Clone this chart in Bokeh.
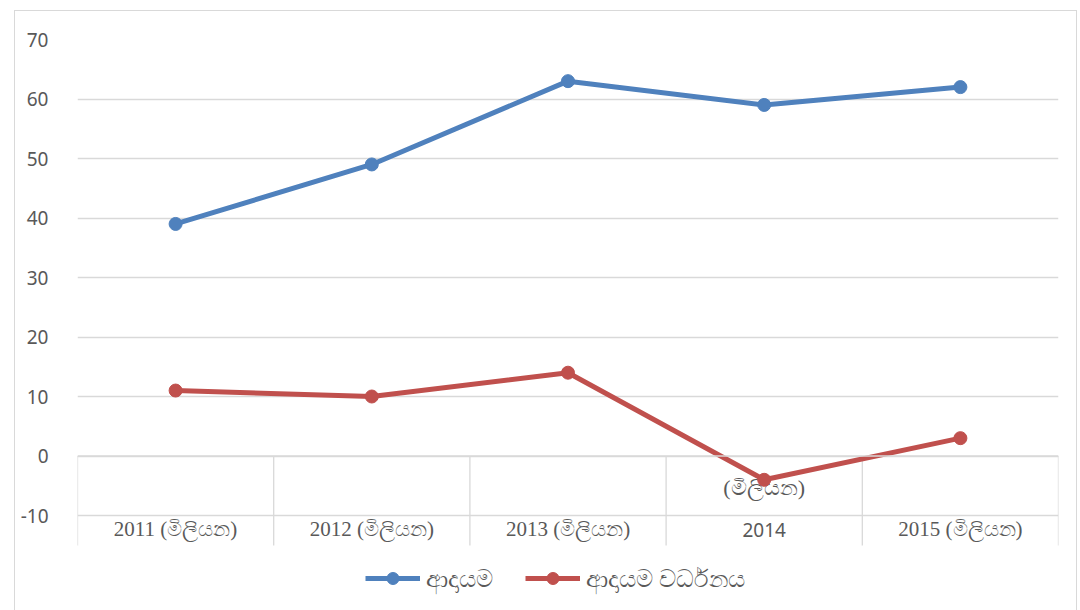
from bokeh.plotting import figure
from bokeh.models import (Range1d, FixedTicker, Legend, LegendItem, ColumnDataSource, Span)
from bokeh.core.properties import value
from bokeh.embed import file_html
from bokeh.resources import INLINE

# ---- data ----
categories = ["2011 (මිලියන)", "2012 (මිලියන)", "2013 (මිලියන)", "2014 (මිලියන)", "2015 (මිලියන)"]
income = [39, 49, 63, 59, 62]
growth = [11, 10, 14, -4, 3]
series_names = ["ආදායම", "ආදායම වර්ධනය"]
y_ticks = [-10, 0, 10, 20, 30, 40, 50, 60, 70]

BLUE = "#4F81BD"
RED = "#C0504D"
GRID = "#D9D9D9"
TXT = "#595959"

n = len(categories)
xs = [i + 0.5 for i in range(n)]

PX_PER_UNIT = 5.95
FRAME_H = 572
y_low = 70 - FRAME_H / PX_PER_UNIT
axis_low = -15.04  # lower end of category dividers

p = figure(output_backend="svg", toolbar_location=None,
           frame_width=981, frame_height=FRAME_H,
           min_border_left=62, min_border_top=28, min_border_right=18, min_border_bottom=0,
           x_range=Range1d(0, n), y_range=Range1d(y_low, 70))
p.margin = (10, 0, 0, 14)
p.styles = {"border-top": "1px solid #D9D9D9", "border-left": "1px solid #D9D9D9",
            "border-right": "1px solid #D9D9D9"}
p.outline_line_color = None
p.xaxis.visible = False
p.xgrid.visible = False

ya = p.yaxis[0]
ya.ticker = FixedTicker(ticks=y_ticks)
ya.major_label_overrides = {t: str(t) for t in y_ticks}
ya.axis_line_color = None
ya.major_tick_line_color = None
ya.minor_tick_line_color = None
ya.major_label_standoff = 23
ya.major_label_text_font = "Noto Sans"
ya.major_label_text_font_size = "19px"
ya.major_label_text_color = TXT

p.ygrid.ticker = FixedTicker(ticks=y_ticks)
p.ygrid.grid_line_color = GRID
p.ygrid.grid_line_width = 1.3

# category axis at y=0 with dividers going down
bounds = list(range(n + 1))
p.segment(x0=bounds, y0=[0] * len(bounds), x1=bounds, y1=[axis_low] * len(bounds),
          line_color=GRID, line_width=1.3)
p.add_layout(Span(location=0, dimension="width", line_color=GRID, line_width=1.3))

# category labels
main_x, main_t = [], []
for i, c in enumerate(categories):
    if c.startswith("2014"):
        yr, rest = c.split(" ", 1)
        p.text(x=[xs[i]], y=[-12.4], text=[yr], text_align="center", text_baseline="middle",
               text_font=value("Noto Sans"), text_font_size="19px", text_color=TXT)
        p.text(x=[xs[i]], y=[-5.3], text=[rest], text_align="center", text_baseline="middle",
               text_font=value("Liberation Serif"), text_font_size="22px", text_color=TXT)
    else:
        main_x.append(xs[i])
        main_t.append(c)

serif_src = ColumnDataSource(dict(x=main_x, y=[-12.2] * len(main_x), t=main_t))
p.text(x="x", y="y", text="t", source=serif_src, text_align="center", text_baseline="middle",
       text_font=value("Liberation Serif"), text_font_size="21px", text_color=TXT)

# series
l1 = p.line(xs, income, line_color=BLUE, line_width=5)
s1 = p.scatter(xs, income, size=13, fill_color=BLUE, line_color=BLUE)
l2 = p.line(xs, growth, line_color=RED, line_width=5)
s2 = p.scatter(xs, growth, size=13, fill_color=RED, line_color=RED)

legend = Legend(items=[LegendItem(label=series_names[0], renderers=[l1, s1]),
                       LegendItem(label=series_names[1], renderers=[l2, s2])],
                orientation="horizontal", location=(288, 17),
                glyph_width=55, glyph_height=30, spacing=32, label_standoff=6,
                label_text_font="Noto Sans", label_text_font_size="24px",
                label_text_color=TXT, border_line_color=None, background_fill_alpha=0,
                margin=0, padding=0)
p.add_layout(legend, "center")

open("out.html", "w").write(file_html(p, INLINE))
